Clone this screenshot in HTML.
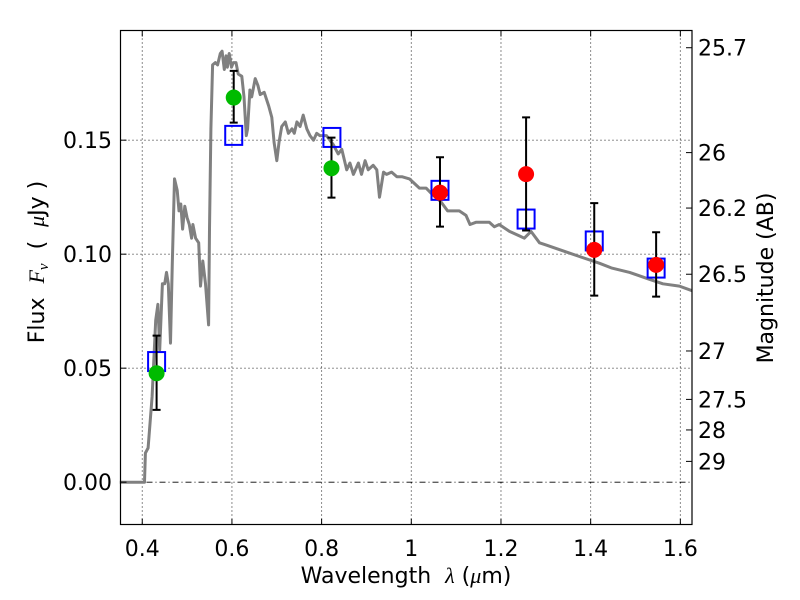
<!DOCTYPE html>
<html><head><meta charset="utf-8"><style>
body{margin:0;background:#fff;}
svg{display:block;font-family:"DejaVu Sans","Liberation Sans",sans-serif;}
</style></head><body>
<svg id="chart" width="800" height="600" viewBox="0 0 800 600">
<g id="grid"></g>
<g id="marks"></g>
<rect x="120.5" y="30.5" width="571.5" height="494" fill="none" stroke="#000" stroke-width="1.2"/>
<g id="axes"></g>
<text x="406" y="583" font-size="22" text-anchor="middle">Wavelength&#160;&#160;<tspan font-style="italic" font-family="Liberation Serif, serif">λ</tspan>&#160;(<tspan font-style="italic" font-family="Liberation Serif, serif">μ</tspan>m)</text>
<text transform="translate(44,262) rotate(-90)" font-size="22" text-anchor="middle">Flux&#160;&#160;<tspan font-style="italic" font-family="Liberation Serif, serif">F<tspan font-size="15" dy="4">ν</tspan></tspan><tspan dy="-4">&#160;&#160;(&#160;&#160;</tspan><tspan font-style="italic" font-family="Liberation Serif, serif">μ</tspan>Jy&#160;)</text>
<text transform="translate(773,278) rotate(-90)" font-size="22" text-anchor="middle">Magnitude (AB)</text>
</svg>
<script>
const xTicks=[0.4,0.6,0.8,1.0,1.2,1.4,1.6];
const xTickLabels=["0.4","0.6","0.8","1","1.2","1.4","1.6"];
const yTicks=[0,0.05,0.10,0.15];
const yTickLabels=["0.00","0.05","0.10","0.15"];
const magTicks=[25.7,26,26.2,26.5,27,27.5,28,29];
const magTickLabels=["25.7","26","26.2","26.5","27","27.5","28","29"];
const specLam=[0.35,0.405,0.407,0.413,0.422,0.430,0.435,0.439,0.445,0.450,0.454,0.458,0.463,0.467,0.472,0.478,0.482,0.486,0.490,0.495,0.500,0.505,0.510,0.513,0.519,0.526,0.530,0.535,0.541,0.548,0.550,0.553,0.557,0.563,0.568,0.574,0.578,0.583,0.587,0.590,0.594,0.599,0.603,0.609,0.614,0.622,0.627,0.632,0.635,0.640,0.644,0.652,0.658,0.663,0.672,0.682,0.689,0.694,0.700,0.705,0.711,0.719,0.726,0.734,0.739,0.745,0.752,0.759,0.767,0.774,0.782,0.789,0.796,0.811,0.826,0.837,0.845,0.856,0.863,0.871,0.882,0.889,0.897,0.904,0.915,0.923,0.929,0.938,0.945,0.956,0.968,0.979,0.996,1.018,1.033,1.048,1.066,1.081,1.107,1.122,1.131,1.144,1.174,1.185,1.196,1.219,1.241,1.252,1.267,1.286,1.301,1.330,1.375,1.420,1.446,1.487,1.531,1.561,1.598,1.626];
const specFlux=[0.0,0.0,0.0128,0.015,0.0375,0.071,0.078,0.058,0.087,0.087,0.092,0.087,0.061,0.096,0.133,0.128,0.119,0.122,0.111,0.121,0.116,0.113,0.107,0.113,0.107,0.105,0.086,0.097,0.087,0.069,0.111,0.155,0.183,0.184,0.183,0.188,0.189,0.181,0.187,0.182,0.188,0.182,0.184,0.184,0.179,0.178,0.169,0.152,0.155,0.172,0.169,0.177,0.174,0.170,0.171,0.165,0.160,0.149,0.141,0.149,0.156,0.158,0.153,0.155,0.153,0.158,0.156,0.161,0.155,0.152,0.150,0.153,0.152,0.152,0.148,0.144,0.146,0.137,0.140,0.135,0.140,0.135,0.141,0.137,0.139,0.137,0.125,0.136,0.135,0.136,0.134,0.134,0.133,0.129,0.129,0.126,0.123,0.119,0.119,0.117,0.113,0.114,0.114,0.112,0.113,0.110,0.108,0.107,0.110,0.105,0.104,0.102,0.099,0.096,0.094,0.092,0.089,0.087,0.086,0.084];
const modelLam=[0.432,0.604,0.823,1.064,1.256,1.408,1.546];
const modelFlux=[0.0529,0.1521,0.1512,0.128,0.1154,0.1058,0.0939];
const obsLam=[0.432,0.604,0.822,1.064,1.256,1.408,1.546];
const obsFlux=[0.0478,0.1687,0.1377,0.127,0.1351,0.1019,0.0953];
const obsErrHi=[0.0643,0.1804,0.1511,0.1425,0.1600,0.1224,0.1096];
const obsErrLo=[0.0317,0.1577,0.1248,0.1121,0.1104,0.0818,0.0814];
const obsColor=["#00bb00","#00bb00","#00bb00","#ff0000","#ff0000","#ff0000","#ff0000"];

const X0=120.5,X1=692,Y0=30.5,Y1=524.5;
const xmin=0.3515,xmax=1.626,ymin=-0.01856,ymax=0.1981;
const sx=v=>X0+(v-xmin)/(xmax-xmin)*(X1-X0);
const sy=v=>Y1-(v-ymin)/(ymax-ymin)*(Y1-Y0);
const NS="http://www.w3.org/2000/svg";
function mk(tag,attrs,parent){const e=document.createElementNS(NS,tag);for(const k in attrs)e.setAttribute(k,attrs[k]);parent.appendChild(e);return e;}
const grid=document.getElementById('grid'),marks=document.getElementById('marks'),axes=document.getElementById('axes');

xTicks.forEach((t,i)=>{
  const x=sx(t);
  const g=mk('line',{x1:x,x2:x,y1:Y0,y2:Y1,stroke:'#000','stroke-width':0.9,'stroke-dasharray':'1,3'},grid);
  
  
  const a=mk('line',{x1:x,x2:x,y1:Y1,y2:Y1-6,stroke:'#000','stroke-width':1},axes);
  
  
  const b=mk('line',{x1:x,x2:x,y1:Y0,y2:Y0+6,stroke:'#000','stroke-width':1},axes);
  
  
  const tx=mk('text',{x:x,y:556,'font-size':22,'text-anchor':'middle'},axes);
  tx.textContent=xTickLabels[i];
  
  
});
yTicks.forEach((t,i)=>{
  const y=sy(t);
  const g=mk('line',{x1:X0,x2:X1,y1:y,y2:y,stroke:'#000','stroke-width':0.9,'stroke-dasharray':t===0?'6,3,1,3':'1,3'},grid);
  
  
  const a=mk('line',{x1:X0,x2:X0+6,y1:y,y2:y,stroke:'#000','stroke-width':1},axes);
  
  
  const tx=mk('text',{x:112,y:y+8,'font-size':22,'text-anchor':'end'},axes);
  tx.textContent=yTickLabels[i];
  
  
});
magTicks.forEach((m,i)=>{
  const f=Math.pow(10,(23.9-m)/2.5);
  const y=sy(f);
  const a=mk('line',{x1:X1,x2:X1-6,y1:y,y2:y,stroke:'#000','stroke-width':1},axes);
  
  
  const tx=mk('text',{x:698,y:y+8,'font-size':22},axes);
  tx.textContent=magTickLabels[i];
  
  
});
const pts=specLam.map((l,i)=>sx(l).toFixed(1)+','+sy(specFlux[i]).toFixed(1)).join(' ');
const sp=mk('polyline',{points:pts,fill:'none',stroke:'#808080','stroke-width':3,'stroke-linejoin':'round'},marks);


modelLam.forEach((l,i)=>{
  const x=sx(l),y=sy(modelFlux[i]);
  const r=mk('rect',{x:x-8.5,y:y-9.5,width:17,height:19,fill:'none',stroke:'#0000ff','stroke-width':2},marks);
  
  
});
obsLam.forEach((l,i)=>{
  const x=sx(l),yh=sy(obsErrHi[i]),yl=sy(obsErrLo[i]);
  const e=mk('path',{d:`M${x},${yh}V${yl}M${x-4},${yh}H${x+4}M${x-4},${yl}H${x+4}`,stroke:'#000','stroke-width':2,fill:'none'},marks);
  
  
  const c=mk('circle',{cx:x,cy:sy(obsFlux[i]),r:8,fill:obsColor[i]},marks);
  
  
});
</script>
</body></html>
